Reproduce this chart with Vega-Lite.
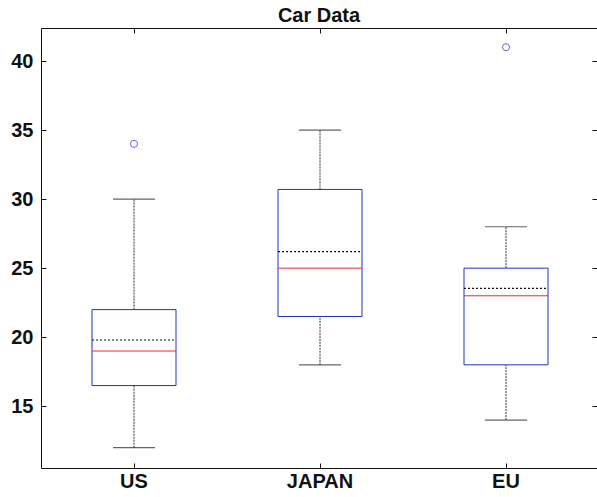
{
  "$schema": "https://vega.github.io/schema/vega-lite/v6.json",
  "autosize": "none",
  "width": 556,
  "height": 440,
  "padding": {"left": 41, "top": 28, "right": 0, "bottom": 29},
  "background": "white",
  "title": {"text": "Car Data", "font": "Liberation Sans", "fontSize": 20, "fontWeight": "bold", "color": "#111", "baseline": "alphabetic", "offset": 6, "dy": 20, "anchor": "middle", "frame": "group"},
  "config": {
    "view": {"stroke": "#111", "strokeWidth": 1},
    "axis": {"domain": false, "grid": false, "tickColor": "#111", "tickSize": -5, "tickWidth": 1,
      "labelFont": "Liberation Sans", "labelFontSize": 20, "labelFontWeight": "bold", "labelColor": "#111", "title": null}
  },
  "datasets": {
    "stats": [
      {"origin": "US", "lo": 12, "q1": 16.5, "median": 19, "mean": 19.8, "q3": 22, "hi": 30},
      {"origin": "JAPAN", "lo": 18, "q1": 21.5, "median": 25, "mean": 26.2, "q3": 30.7, "hi": 35},
      {"origin": "EU", "lo": 14, "q1": 18, "median": 23, "mean": 23.53, "q3": 25, "hi": 28}
    ],
    "outliers": [
      {"origin": "US", "value": 34},
      {"origin": "EU", "value": 41}
    ]
  },
  "data": {"name": "stats"},
  "resolve": {"axis": {"x": "independent", "y": "independent"}},
  "layer": [
    {
      "mark": {"type": "rule", "color": "#333", "strokeDash": [2, 1], "strokeWidth": 1},
      "encoding": {
        "x": {"field": "origin", "type": "nominal", "sort": ["US", "JAPAN", "EU"],
          "scale": {"type": "band", "range": [0, 558], "paddingInner": 0, "paddingOuter": 0},
          "axis": {"orient": "bottom", "labelAngle": 0, "labelPadding": 8}},
        "y": {"field": "lo", "type": "quantitative",
          "scale": {"domain": [10.53, 42.39], "nice": false, "zero": false},
          "axis": {"orient": "left", "values": [15, 20, 25, 30, 35, 40], "labelPadding": 13, "labelBaseline": "middle"}},
        "y2": {"field": "q1"}
      }
    },
    {
      "mark": {"type": "rule", "color": "#333", "strokeDash": [2, 1], "strokeWidth": 1},
      "encoding": {
        "x": {"field": "origin", "type": "nominal", "sort": ["US", "JAPAN", "EU"],
          "axis": {"orient": "top", "labels": false}},
        "y": {"field": "q3", "type": "quantitative",
          "axis": {"orient": "right", "labels": false, "values": [15, 20, 25, 30, 35, 40]}},
        "y2": {"field": "hi"}
      }
    },
    {
      "mark": {"type": "tick", "color": "#222", "size": 42, "thickness": 1.2},
      "encoding": {
        "x": {"field": "origin", "type": "nominal", "sort": ["US", "JAPAN", "EU"], "axis": null},
        "y": {"field": "lo", "type": "quantitative", "axis": null}
      }
    },
    {
      "mark": {"type": "tick", "color": "#222", "size": 42, "thickness": 1.2},
      "encoding": {
        "x": {"field": "origin", "type": "nominal", "sort": ["US", "JAPAN", "EU"], "axis": null},
        "y": {"field": "hi", "type": "quantitative", "axis": null}
      }
    },
    {
      "mark": {"type": "bar", "size": 84, "fill": "transparent", "stroke": "#1f33c0", "strokeWidth": 1},
      "encoding": {
        "x": {"field": "origin", "type": "nominal", "sort": ["US", "JAPAN", "EU"], "axis": null},
        "y": {"field": "q1", "type": "quantitative", "axis": null},
        "y2": {"field": "q3"}
      }
    },
    {
      "mark": {"type": "rule", "color": "#111", "strokeDash": [2, 2], "strokeWidth": 1.2, "xOffset": -42, "x2Offset": 42},
      "encoding": {
        "x": {"field": "origin", "type": "nominal", "sort": ["US", "JAPAN", "EU"], "axis": null},
        "x2": {"field": "origin"},
        "y": {"field": "mean", "type": "quantitative", "axis": null}
      }
    },
    {
      "mark": {"type": "rule", "color": "#e82a2a", "strokeWidth": 1, "xOffset": -42, "x2Offset": 42},
      "encoding": {
        "x": {"field": "origin", "type": "nominal", "sort": ["US", "JAPAN", "EU"], "axis": null},
        "x2": {"field": "origin"},
        "y": {"field": "median", "type": "quantitative", "axis": null}
      }
    },
    {
      "data": {"name": "outliers"},
      "mark": {"type": "point", "shape": "circle", "filled": false, "color": "#1f33c0", "size": 50, "strokeWidth": 1},
      "encoding": {
        "x": {"field": "origin", "type": "nominal", "sort": ["US", "JAPAN", "EU"], "axis": null},
        "y": {"field": "value", "type": "quantitative", "axis": null}
      }
    }
  ]
}
